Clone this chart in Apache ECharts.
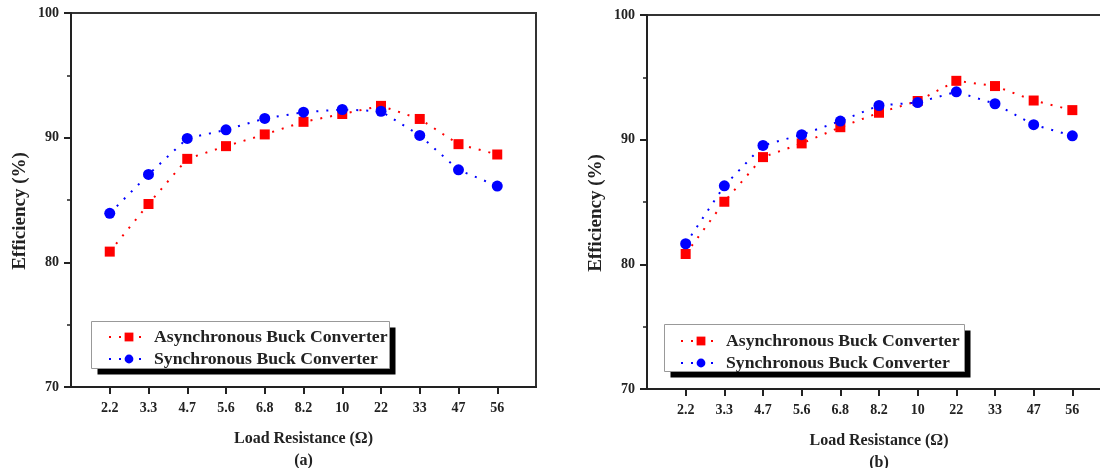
<!DOCTYPE html>
<html>
<head>
<meta charset="utf-8">
<script src="https://cdn.jsdelivr.net/npm/echarts@6/dist/echarts.min.js"></script>
<style>
html,body{margin:0;padding:0;background:#fff;}
#chart{width:1100px;height:468px;}
</style>
</head>
<body>
<div id="chart"></div>
<script>
const categories = ['2.2','3.3','4.7','5.6','6.8','8.2','10','22','33','47','56'];
const yTicks = [70, 80, 90, 100];
const seriesNames = ['Asynchronous Buck Converter', 'Synchronous Buck Converter'];
const asyncA = [80.86, 84.68, 88.30, 89.32, 90.26, 91.27, 91.90, 92.55, 91.50, 89.48, 88.65];
const syncA  = [83.93, 87.05, 89.94, 90.63, 91.54, 92.04, 92.26, 92.12, 90.18, 87.42, 86.12];
const asyncB = [80.83, 85.02, 88.60, 89.70, 91.00, 92.16, 93.10, 94.72, 94.30, 93.14, 92.37];
const syncB  = [81.65, 86.30, 89.54, 90.40, 91.49, 92.74, 92.98, 93.84, 92.88, 91.20, 90.31];
const panelLabels = ['(a)', '(b)'];

const FONT = "'Liberation Serif', 'Times New Roman', serif";
const TXT = '#222';
const padCats = [''].concat(categories, [' ']);
const lastIdx = padCats.length - 1;

function xAxisFor(gi, label) {
  return {
    type: 'category', gridIndex: gi, data: padCats, boundaryGap: false,
    name: 'Load Resistance (Ω)\n' + label, nameLocation: 'middle', nameGap: 41,
    nameTextStyle: { fontFamily: FONT, fontWeight: 'bold', fontSize: 16, color: TXT, lineHeight: 22 },
    axisLine: { lineStyle: { color: '#222', width: 2 } },
    axisTick: { show: true, inside: false, length: 7, lineStyle: { color: '#222', width: 2 },
      interval: (i) => i > 0 && i < lastIdx, alignWithLabel: true },
    axisLabel: { fontFamily: FONT, fontWeight: 'bold', fontSize: 14, color: TXT, margin: 14,
      interval: (i) => i > 0 && i < lastIdx },
    splitLine: { show: false }
  };
}
function yAxisFor(gi) {
  return {
    type: 'value', gridIndex: gi, min: yTicks[0], max: yTicks[yTicks.length - 1], interval: 10,
    name: 'Efficiency (%)', nameLocation: 'middle', nameGap: 41,
    nameTextStyle: { fontFamily: FONT, fontWeight: 'bold', fontSize: 19, color: TXT, padding: [0, 22, 0, 0] },
    axisLine: { show: true, lineStyle: { color: '#222', width: 2 } },
    axisTick: { show: true, length: 7, lineStyle: { color: '#222', width: 2 } },
    minorTick: { show: true, splitNumber: 2, length: 4, lineStyle: { color: '#222', width: 1.5 } },
    axisLabel: { fontFamily: FONT, fontWeight: 'bold', fontSize: 14, color: TXT, margin: 12 },
    splitLine: { show: false }
  };
}
function lineSeries(name, gi, vals, color, symbol, size) {
  return {
    name: name, type: 'line', xAxisIndex: gi, yAxisIndex: gi,
    data: categories.map((c, i) => [c, vals[i]]),
    symbol: symbol, symbolSize: size,
    itemStyle: { color: color },
    lineStyle: { color: color, width: 2, type: [2, 8] },
    z: 3
  };
}
function legendFor(left, top) {
  return {
    orient: 'vertical', left: left, top: top, data: seriesNames,
    padding: 0, itemGap: 4, itemWidth: 40, itemHeight: 11,
    selectedMode: false, z: 10,
    textStyle: { fontFamily: FONT, fontWeight: 'bold', fontSize: 17.7, color: TXT }
  };
}
function legendFrame(x, y, w, h) {
  return [
    { type: 'rect', z: 8, silent: true, shape: { x: x + 6, y: y + 6, width: w, height: h }, style: { fill: '#000' } },
    { type: 'rect', z: 9, silent: true, shape: { x: x, y: y, width: w, height: h }, style: { fill: '#fff', stroke: '#999', lineWidth: 1 } }
  ];
}

const chart = echarts.init(document.getElementById('chart'), null, { renderer: 'canvas' });
chart.setOption({
  backgroundColor: '#fff',
  animation: false,
  grid: [
    { left: 71, top: 13, right: 564, bottom: 81, outerBoundsMode: 'none', containLabel: false, show: true, borderColor: '#333', borderWidth: 2, backgroundColor: 'transparent' },
    { left: 647, top: 15, right: -11, bottom: 79, outerBoundsMode: 'none', containLabel: false, show: true, borderColor: '#333', borderWidth: 2, backgroundColor: 'transparent' }
  ],
  xAxis: [xAxisFor(0, panelLabels[0]), xAxisFor(1, panelLabels[1])],
  yAxis: [yAxisFor(0), yAxisFor(1)],
  graphic: legendFrame(91.5, 321.5, 298, 47).concat(legendFrame(664.5, 324.5, 300, 47)),
  legend: [legendFor(108, 328), legendFor(680, 332)],
  series: [
    lineSeries(seriesNames[0], 0, asyncA, '#ff0000', 'rect', 10),
    lineSeries(seriesNames[1], 0, syncA, '#0000ff', 'circle', 11),
    lineSeries(seriesNames[0], 1, asyncB, '#ff0000', 'rect', 10),
    lineSeries(seriesNames[1], 1, syncB, '#0000ff', 'circle', 11)
  ]
});
</script>
</body>
</html>
